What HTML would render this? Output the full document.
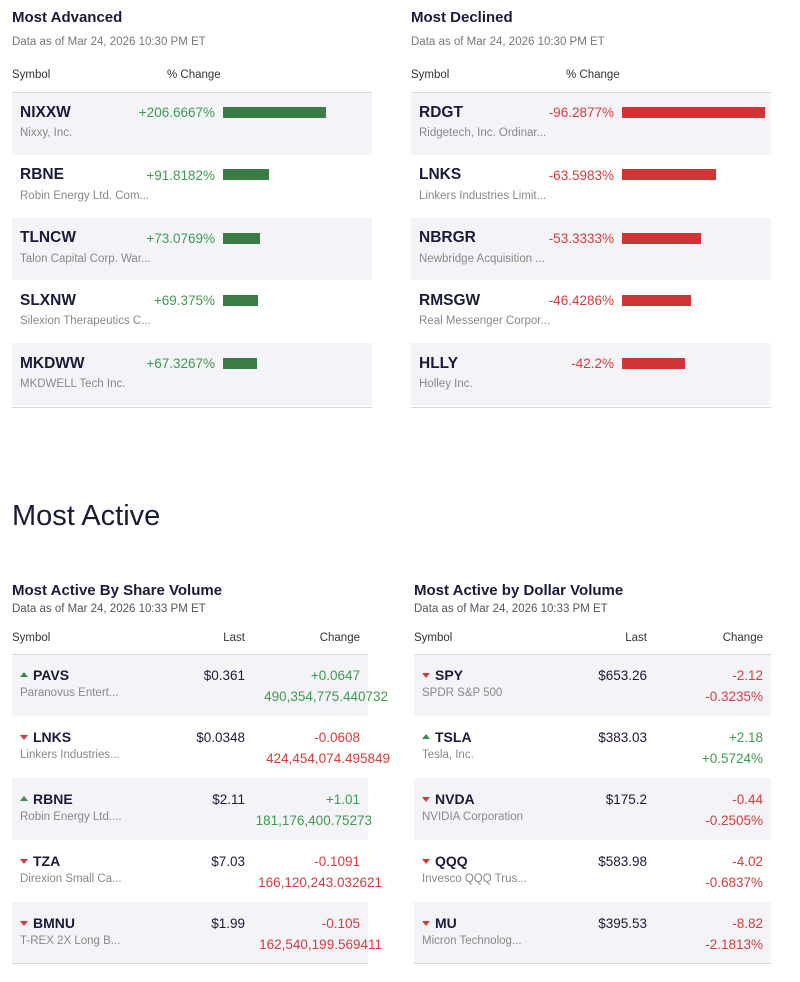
<!DOCTYPE html>
<html><head><style>
body{margin:0;background:#fff;font-family:"Liberation Sans",sans-serif;color:#1a1a3a;width:800px;height:982px;position:relative;overflow:hidden}
.a{position:absolute;white-space:nowrap}
.t{font-weight:bold;font-size:15px}
.d{font-size:11.5px;color:#777}
.h{font-size:11.5px;color:#333}
.sym{font-weight:bold;font-size:15.5px;color:#1a1a3a}
.co{font-size:11.5px;color:#888}
.g{color:#3d9a4e}.r{color:#d23c3c}
.row{position:absolute;height:62px}
.sh{background:#f4f4f8}
.ln{position:absolute;height:1px;background:#d6d6dc}
.bar{position:absolute;height:11px}
.up{display:inline-block;width:0;height:0;border-left:4.5px solid transparent;border-right:4.5px solid transparent;border-bottom:5px solid #3d8a4a;margin-right:5px;vertical-align:middle;position:relative;top:-2px}
.dn{display:inline-block;width:0;height:0;border-left:4.5px solid transparent;border-right:4.5px solid transparent;border-top:5px solid #d23c3c;margin-right:5px;vertical-align:middle;position:relative;top:-1px}
.v{font-size:13.5px}
</style></head><body>
<!-- Most Advanced -->
<div class="a t" style="left:12px;top:9px">Most Advanced</div>
<div class="a d" style="left:12px;top:36px">Data as of Mar 24, 2026 10:30 PM ET</div>
<div class="a h" style="left:12px;top:69px">Symbol</div>
<div class="a h" style="left:167px;top:69px">% Change</div>
<div class="ln" style="left:12px;top:92px;width:360px"></div>
<div class="row sh" style="left:12px;top:93px;width:360px"></div>
<div class="row sh" style="left:12px;top:218px;width:360px"></div>
<div class="row sh" style="left:12px;top:343px;width:360px"></div>
<div class="ln" style="left:12px;top:407px;width:360px"></div>

<div class="ln" style="left:411px;top:92px;width:360px"></div>
<div class="row sh" style="left:411px;top:93px;width:360px"></div>
<div class="row sh" style="left:411px;top:218px;width:360px"></div>
<div class="row sh" style="left:411px;top:343px;width:360px"></div>
<div class="ln" style="left:411px;top:407px;width:360px"></div>

<div class="a sym" style="left:20px;top:104px">NIXXW</div><div class="a co" style="left:20px;top:127px">Nixxy, Inc.</div>
<div class="a v g" style="right:585px;top:105px">+206.6667%</div><div class="bar" style="left:223px;top:107px;width:103px;background:#3a7d44"></div>
<div class="a sym" style="left:20px;top:166px">RBNE</div><div class="a co" style="left:20px;top:190px">Robin Energy Ltd. Com...</div>
<div class="a v g" style="right:585px;top:168px">+91.8182%</div><div class="bar" style="left:223px;top:169px;width:46px;background:#3a7d44"></div>
<div class="a sym" style="left:20px;top:229px">TLNCW</div><div class="a co" style="left:20px;top:253px">Talon Capital Corp. War...</div>
<div class="a v g" style="right:585px;top:231px">+73.0769%</div><div class="bar" style="left:223px;top:233px;width:37px;background:#3a7d44"></div>
<div class="a sym" style="left:20px;top:292px">SLXNW</div><div class="a co" style="left:20px;top:315px">Silexion Therapeutics C...</div>
<div class="a v g" style="right:585px;top:293px">+69.375%</div><div class="bar" style="left:223px;top:295px;width:35px;background:#3a7d44"></div>
<div class="a sym" style="left:20px;top:355px">MKDWW</div><div class="a co" style="left:20px;top:378px">MKDWELL Tech Inc.</div>
<div class="a v g" style="right:585px;top:356px">+67.3267%</div><div class="bar" style="left:223px;top:358px;width:34px;background:#3a7d44"></div>

<!-- Most Declined -->
<div class="a t" style="left:411px;top:9px">Most Declined</div>
<div class="a d" style="left:411px;top:36px">Data as of Mar 24, 2026 10:30 PM ET</div>
<div class="a h" style="left:411px;top:69px">Symbol</div>
<div class="a h" style="left:566px;top:69px">% Change</div>
<div class="a sym" style="left:419px;top:104px">RDGT</div><div class="a co" style="left:419px;top:127px">Ridgetech, Inc. Ordinar...</div>
<div class="a v r" style="right:186px;top:105px">-96.2877%</div><div class="bar" style="left:622px;top:107px;width:143px;background:#d03434"></div>
<div class="a sym" style="left:419px;top:166px">LNKS</div><div class="a co" style="left:419px;top:190px">Linkers Industries Limit...</div>
<div class="a v r" style="right:186px;top:168px">-63.5983%</div><div class="bar" style="left:622px;top:169px;width:94px;background:#d03434"></div>
<div class="a sym" style="left:419px;top:229px">NBRGR</div><div class="a co" style="left:419px;top:253px">Newbridge Acquisition ...</div>
<div class="a v r" style="right:186px;top:231px">-53.3333%</div><div class="bar" style="left:622px;top:233px;width:79px;background:#d03434"></div>
<div class="a sym" style="left:419px;top:292px">RMSGW</div><div class="a co" style="left:419px;top:315px">Real Messenger Corpor...</div>
<div class="a v r" style="right:186px;top:293px">-46.4286%</div><div class="bar" style="left:622px;top:295px;width:69px;background:#d03434"></div>
<div class="a sym" style="left:419px;top:355px">HLLY</div><div class="a co" style="left:419px;top:378px">Holley Inc.</div>
<div class="a v r" style="right:186px;top:356px">-42.2%</div><div class="bar" style="left:622px;top:358px;width:63px;background:#d03434"></div>

<div class="a" style="left:12px;top:500px;font-size:29px;color:#1a1a3a">Most Active</div>

<!-- Share volume -->
<div class="a t" style="left:12px;top:582px">Most Active By Share Volume</div>
<div class="a d" style="left:12px;top:603px;color:#555">Data as of Mar 24, 2026 10:33 PM ET</div>
<div class="a h" style="left:12px;top:632px">Symbol</div>
<div class="a h" style="right:555px;top:632px">Last</div>
<div class="a h" style="right:440px;top:632px">Change</div>
<div class="ln" style="left:12px;top:654px;width:356px"></div>
<div class="row sh" style="left:12px;top:655px;width:356px;height:61px"></div>
<div class="row sh" style="left:12px;top:778px;width:356px;height:62px"></div>
<div class="row sh" style="left:12px;top:902px;width:356px;height:61px"></div>
<div class="ln" style="left:12px;top:963px;width:356px"></div>

<div class="a sym" style="left:20px;top:667px;font-size:14px"><span class="up"></span>PAVS</div><div class="a co" style="left:20px;top:687px">Paranovus Entert...</div>
<div class="a v" style="right:555px;top:668px">$0.361</div><div class="a v g" style="right:440px;top:668px">+0.0647</div><div class="a v g" style="right:412px;top:689px">490,354,775.440732</div>
<div class="a sym" style="left:20px;top:729px;font-size:14px"><span class="dn"></span>LNKS</div><div class="a co" style="left:20px;top:749px">Linkers Industries...</div>
<div class="a v" style="right:555px;top:730px">$0.0348</div><div class="a v r" style="right:440px;top:730px">-0.0608</div><div class="a v r" style="right:410px;top:751px">424,454,074.495849</div>
<div class="a sym" style="left:20px;top:791px;font-size:14px"><span class="up"></span>RBNE</div><div class="a co" style="left:20px;top:811px">Robin Energy Ltd....</div>
<div class="a v" style="right:555px;top:792px">$2.11</div><div class="a v g" style="right:440px;top:792px">+1.01</div><div class="a v g" style="right:428px;top:813px">181,176,400.75273</div>
<div class="a sym" style="left:20px;top:853px;font-size:14px"><span class="dn"></span>TZA</div><div class="a co" style="left:20px;top:873px">Direxion Small Ca...</div>
<div class="a v" style="right:555px;top:854px">$7.03</div><div class="a v r" style="right:440px;top:854px">-0.1091</div><div class="a v r" style="right:418px;top:875px">166,120,243.032621</div>
<div class="a sym" style="left:20px;top:915px;font-size:14px"><span class="dn"></span>BMNU</div><div class="a co" style="left:20px;top:935px">T-REX 2X Long B...</div>
<div class="a v" style="right:555px;top:916px">$1.99</div><div class="a v r" style="right:440px;top:916px">-0.105</div><div class="a v r" style="right:418px;top:937px">162,540,199.569411</div>

<!-- Dollar volume -->
<div class="a t" style="left:414px;top:582px">Most Active by Dollar Volume</div>
<div class="a d" style="left:414px;top:603px;color:#555">Data as of Mar 24, 2026 10:33 PM ET</div>
<div class="a h" style="left:414px;top:632px">Symbol</div>
<div class="a h" style="right:153px;top:632px">Last</div>
<div class="a h" style="right:37px;top:632px">Change</div>
<div class="ln" style="left:414px;top:654px;width:357px"></div>
<div class="row sh" style="left:414px;top:655px;width:357px;height:61px"></div>
<div class="row sh" style="left:414px;top:778px;width:357px;height:62px"></div>
<div class="row sh" style="left:414px;top:902px;width:357px;height:61px"></div>
<div class="ln" style="left:414px;top:963px;width:357px"></div>

<div class="a sym" style="left:422px;top:667px;font-size:14px"><span class="dn"></span>SPY</div><div class="a co" style="left:422px;top:687px">SPDR S&amp;P 500</div>
<div class="a v" style="right:153px;top:668px">$653.26</div><div class="a v r" style="right:37px;top:668px">-2.12</div><div class="a v r" style="right:37px;top:689px">-0.3235%</div>
<div class="a sym" style="left:422px;top:729px;font-size:14px"><span class="up"></span>TSLA</div><div class="a co" style="left:422px;top:749px">Tesla, Inc.</div>
<div class="a v" style="right:153px;top:730px">$383.03</div><div class="a v g" style="right:37px;top:730px">+2.18</div><div class="a v g" style="right:37px;top:751px">+0.5724%</div>
<div class="a sym" style="left:422px;top:791px;font-size:14px"><span class="dn"></span>NVDA</div><div class="a co" style="left:422px;top:811px">NVIDIA Corporation</div>
<div class="a v" style="right:153px;top:792px">$175.2</div><div class="a v r" style="right:37px;top:792px">-0.44</div><div class="a v r" style="right:37px;top:813px">-0.2505%</div>
<div class="a sym" style="left:422px;top:853px;font-size:14px"><span class="dn"></span>QQQ</div><div class="a co" style="left:422px;top:873px">Invesco QQQ Trus...</div>
<div class="a v" style="right:153px;top:854px">$583.98</div><div class="a v r" style="right:37px;top:854px">-4.02</div><div class="a v r" style="right:37px;top:875px">-0.6837%</div>
<div class="a sym" style="left:422px;top:915px;font-size:14px"><span class="dn"></span>MU</div><div class="a co" style="left:422px;top:935px">Micron Technolog...</div>
<div class="a v" style="right:153px;top:916px">$395.53</div><div class="a v r" style="right:37px;top:916px">-8.82</div><div class="a v r" style="right:37px;top:937px">-2.1813%</div>
</body></html>
